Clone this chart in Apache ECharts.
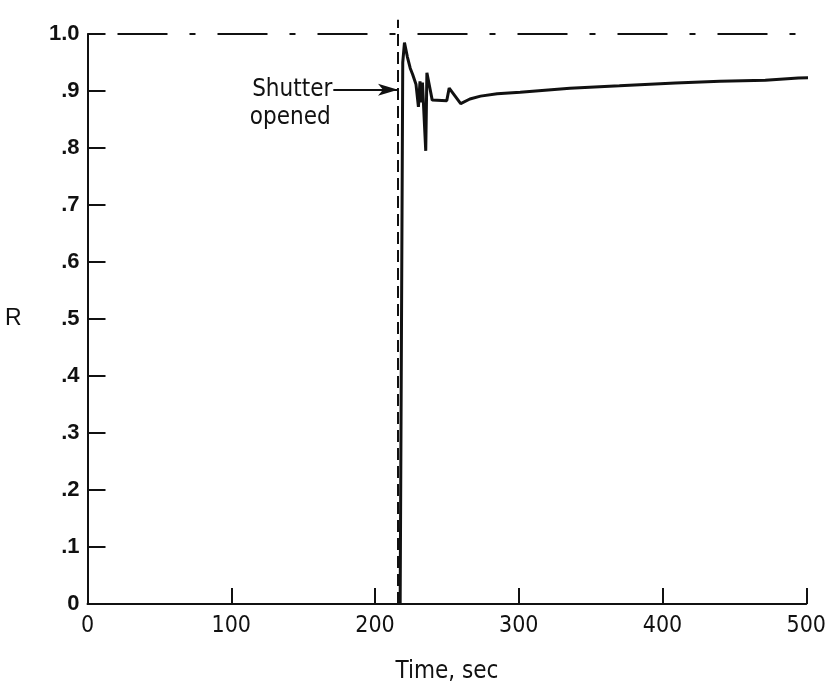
<!DOCTYPE html>
<html>
<head>
<meta charset="utf-8">
<script src="https://cdn.jsdelivr.net/npm/echarts@6/dist/echarts.min.js"></script>
<style>
html,body{margin:0;padding:0;background:#fff;overflow:hidden;}
#c{width:829px;height:689px;}
</style>
</head>
<body>
<div id="c"></div>
<script>
// ---- data ----
var timeSec = [217.5, 219.3, 220.5, 222.5, 224.5, 226.2, 228.5, 230.2, 231.3, 232.3, 233.0, 235.3, 236.1, 239.8, 249.9, 251.6, 259.6, 266, 273.4, 285, 301, 335.6, 370, 409, 440, 471.5, 494.5, 509.5];
var rValue  = [0.0,   0.95,  0.985, 0.96,  0.94,  0.929, 0.912, 0.872, 0.917, 0.88,  0.915, 0.795, 0.932, 0.884, 0.883, 0.905, 0.878, 0.886, 0.891, 0.895, 0.898, 0.905, 0.909, 0.914, 0.917, 0.919, 0.923, 0.924];
var refLevel = 1.0;                 // dash-dot reference line
var refTimes = [0, 500];
var shutterTime = 216;              // dashed vertical line
var shutterSpan = [0, 1.025];
var arrowStart = 171;
var arrowLevel = 0.902;
var xTicks = [0, 100, 200, 300, 400, 500];
var yTickLabels = {"0":"0","0.1":".1","0.2":".2","0.3":".3","0.4":".4","0.5":".5","0.6":".6","0.7":".7","0.8":".8","0.9":".9","1":"1.0"};

var FONT = '"DejaVu Sans Condensed", "Liberation Sans Narrow", "DejaVu Sans", sans-serif';
var chart = echarts.init(document.getElementById('c'));
var mainData = timeSec.map(function(t, i){ return [t, rValue[i]]; });

chart.setOption({
  animation: false,
  backgroundColor: '#fff',
  grid: {left: 87.5, right: 17.7, top: 34, bottom: 81},
  xAxis: {
    type: 'value', min: 0, max: 500, interval: 100,
    name: 'Time, sec', nameLocation: 'middle', nameGap: 56,
    nameTextStyle: {fontFamily: FONT, fontSize: 24, color: '#111'},
    axisLine: {show: true, lineStyle: {color: '#111', width: 2}},
    axisTick: {show: true, inside: true, length: 16, lineStyle: {color: '#111', width: 2}},
    axisLabel: {fontFamily: FONT, fontSize: 23, color: '#111', margin: 11},
    splitLine: {show: false}
  },
  yAxis: {
    type: 'value', min: 0, max: 1, interval: 0.1,
    name: 'R', nameLocation: 'middle', nameGap: 66, nameRotate: 0,
    nameTextStyle: {fontFamily: '"Liberation Sans", sans-serif', fontSize: 23, color: '#111'},
    axisLine: {show: true, lineStyle: {color: '#111', width: 2}},
    axisTick: {show: true, inside: true, length: 18, lineStyle: {color: '#111', width: 2}},
    axisLabel: {
      fontFamily: '"Liberation Sans", sans-serif', fontSize: 22, fontWeight: 'bold', color: '#111', margin: 8,
      formatter: function(v){ var k = String(Math.round(v*10)/10); return yTickLabels[k] !== undefined ? yTickLabels[k] : k; }
    },
    splitLine: {show: false}
  },
  series: [
    {
      type: 'line', data: mainData, clip: false, showSymbol: false, symbol: 'none',
      lineStyle: {color: '#111', width: 3}, z: 5
    },
    {
      type: 'line', data: refTimes.map(function(t){ return [t, refLevel]; }), clip: false, symbol: 'none',
      lineStyle: {color: '#111', width: 2, type: [50, 22, 6, 22], dashOffset: -30}, z: 3
    },
    {
      type: 'line', data: shutterSpan.map(function(r){ return [shutterTime, r]; }), clip: false, symbol: 'none',
      lineStyle: {color: '#111', width: 2, type: [12, 6]}, z: 3
    },
    {
      type: 'line', data: [], symbol: 'none',
      markLine: {
        silent: true, symbol: ['none', 'arrow'], symbolSize: [9, 20],
        lineStyle: {color: '#111', width: 2, type: 'solid'},
        label: {show: false},
        data: [[{coord: [arrowStart, arrowLevel]}, {coord: [shutterTime, arrowLevel]}]]
      }
    }
  ]
});

var p = chart.convertToPixel({gridIndex: 0}, [arrowStart, arrowLevel]);
chart.setOption({
  graphic: [
    {type: 'text', x: p[0] - 1, y: p[1], style: {text: 'Shutter', font: '24px ' + FONT, fill: '#111', textAlign: 'right', textVerticalAlign: 'middle'}},
    {type: 'text', x: p[0] - 43, y: p[1] + 28, style: {text: 'opened', font: '24px ' + FONT, fill: '#111', textAlign: 'center', textVerticalAlign: 'middle'}}
  ]
});
</script>
</body>
</html>
